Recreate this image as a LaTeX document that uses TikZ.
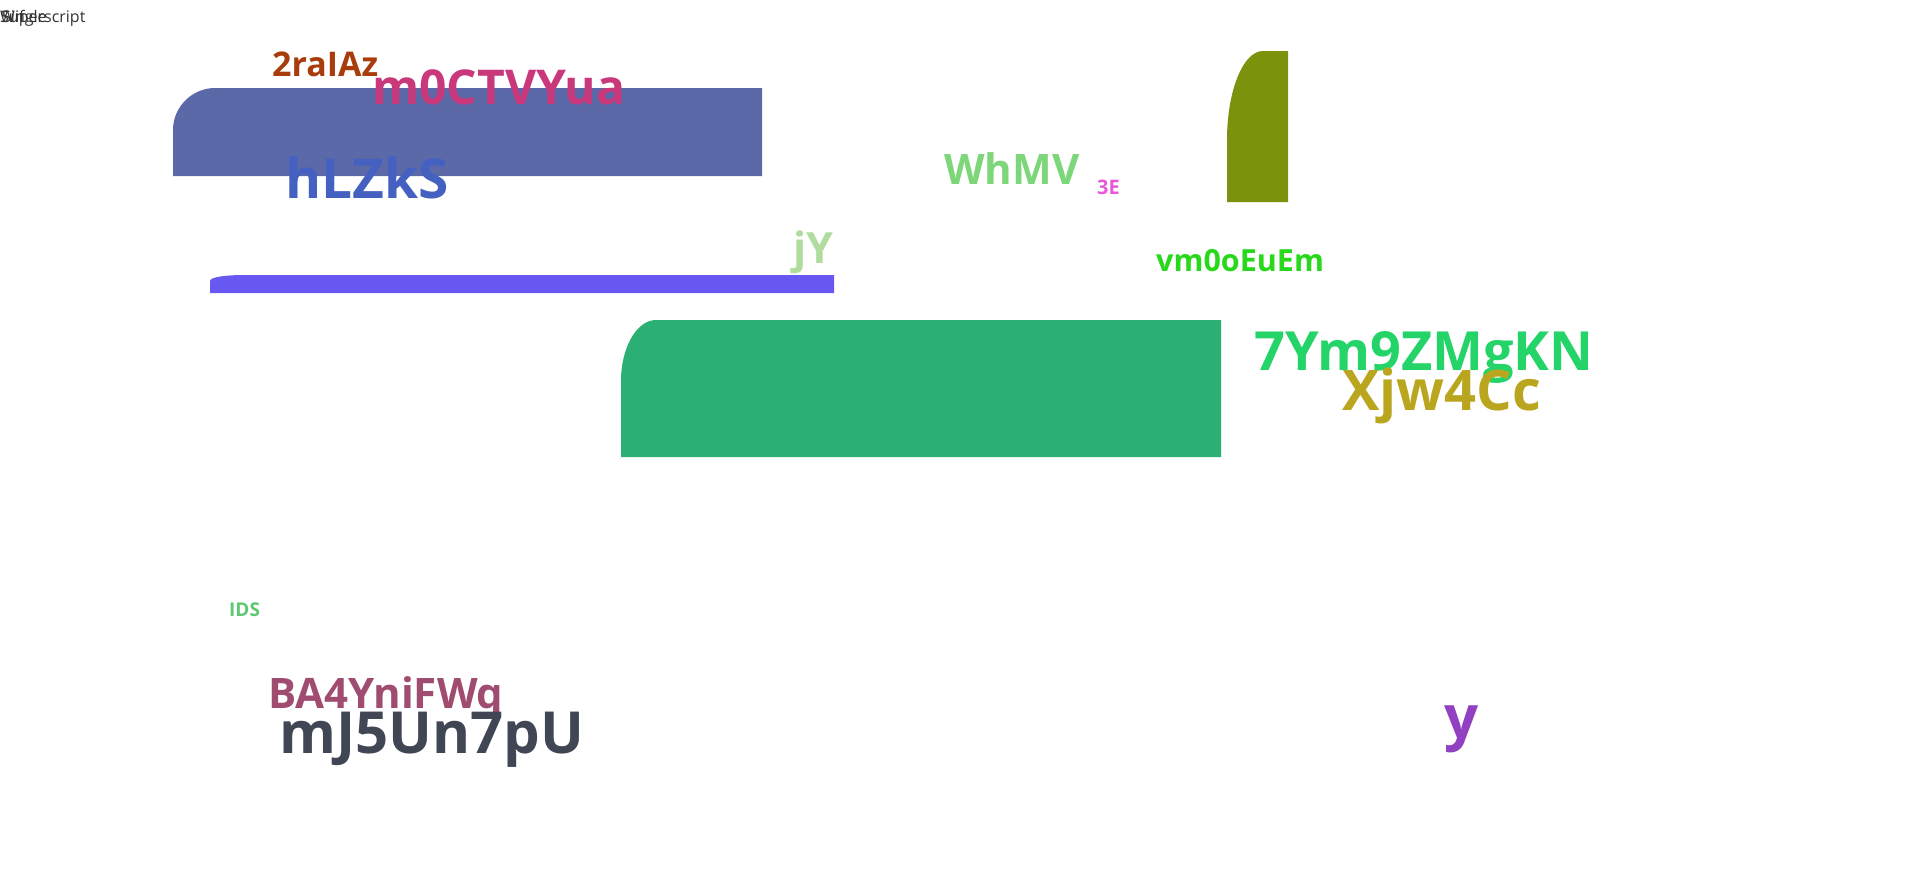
\documentclass[tikz,border=0pt]{standalone}
\usepackage{fontspec}
\setmainfont{Open Sans}
\usepackage{tikz}

\definecolor{cBrown}{HTML}{A83C0C}
\definecolor{cRose}{HTML}{C8387A}
\definecolor{cBlue}{HTML}{4460C0}
\definecolor{cSlate}{HTML}{5C69A8}
\definecolor{cLeaf}{HTML}{7ED67A}
\definecolor{cPink}{HTML}{E858D8}
\definecolor{cOlive}{HTML}{7B920D}
\definecolor{cMint}{HTML}{B0DCA0}
\definecolor{cLime}{HTML}{28D81A}
\definecolor{cViolet}{HTML}{6758F2}
\definecolor{cJade}{HTML}{2BAF73}
\definecolor{cGreen}{HTML}{24D468}
\definecolor{cMustard}{HTML}{BAA61E}
\definecolor{cSage}{HTML}{5EC870}
\definecolor{cMauve}{HTML}{A04C70}
\definecolor{cInk}{HTML}{404654}
\definecolor{cPurple}{HTML}{9040C0}
\definecolor{cGray}{HTML}{333333}

\tikzset{
  lbl/.style={anchor=base west, inner sep=0pt, font=\bfseries},
  tiny/.style={anchor=base west, inner sep=0pt, text=cGray}
}

\newcommand{\fsz}[1]{\fontsize{#1}{#1}\selectfont}

\begin{document}
\begin{tikzpicture}[x=1pt,y=-1pt]
	\useasboundingbox (0,0) rectangle (1920,870);
	
	% blocks
	\fill[cSlate]  (173,176) -- (173,130) .. controls (173,107) and (192,88) .. (215,88) -- (762,88) -- (762,176) -- cycle;
	\fill[cViolet] (210,293) -- (210,281) .. controls (210,277) and (226,275) .. (245,275) -- (834,275) -- (834,293) -- cycle;
	\fill[cJade]   (621,457) -- (621,381) .. controls (621,347) and (637,320) .. (656,320) -- (1221,320) -- (1221,457) -- cycle;
	\fill[cOlive]  (1227,202) -- (1227,140) .. controls (1227,91) and (1243,51) .. (1263,51) -- (1288,51) -- (1288,202) -- cycle;
	
	% small texts top left
	\node[tiny,font=\fsz{16}] (t1) at (0,22) {Superscript};
	\node[tiny,font=\fsz{16}] (t2) at (2,22) {Single};
	\node[tiny,font=\fsz{16}] (t3) at (0,22) {Wif};
	
	% labels
	\node[lbl,text=cBrown,font=\bfseries\fsz{34}]   (n1)  at (272,76)   {2raIAz};
	\node[lbl,text=cRose,font=\bfseries\fsz{48}]    (n2)  at (372,104)  {m0CTVYua};
	\node[lbl,text=cBlue,font=\bfseries\fsz{55}]    (n3)  at (285,198)  {hLZkS};
	\node[lbl,text=cLeaf,font=\bfseries\fsz{42}]    (n4)  at (944,184)  {WhMV};
	\node[lbl,text=cPink,font=\bfseries\fsz{20}]    (n5)  at (1097,194) {3E};
	\node[lbl,text=cMint,font=\bfseries\fsz{43}]    (n6)  at (793,263)  {jY};
	\node[lbl,text=cLime,font=\bfseries\fsz{30.5}]  (n7)  at (1156,271) {vm0oEuEm};
	\node[lbl,text=cGreen,font=\bfseries\fsz{54}]   (n8)  at (1254,370) {7Ym9ZMgKN};
	\node[lbl,text=cMustard,font=\bfseries\fsz{56}] (n9)  at (1342,410) {Xjw4Cc};
	\node[lbl,text=cSage,font=\bfseries\fsz{19}]    (n10) at (229,616)  {IDS};
	\node[lbl,text=cMauve,font=\bfseries\fsz{42}]   (n11) at (268,708)  {BA4YniFWq};
	\node[lbl,text=cInk,font=\bfseries\fsz{58}]     (n12) at (279,753)  {mJ5Un7pU};
	\node[lbl,text=cPurple,font=\bfseries\fsz{60}]  (n13) at (1444,738) {y};
	
\end{tikzpicture}
\end{document}
